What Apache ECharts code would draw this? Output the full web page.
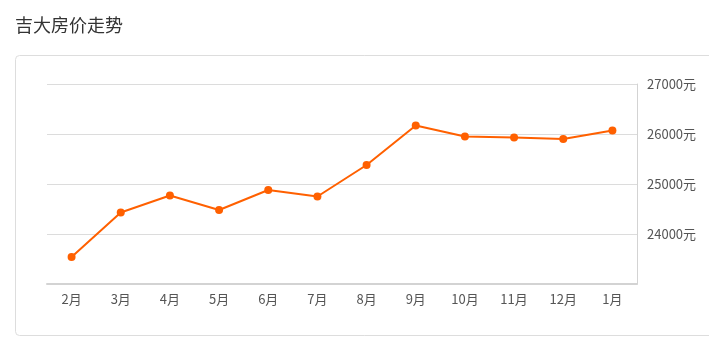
<!DOCTYPE html>
<html>
<head>
<meta charset="utf-8">
<script src="https://cdn.jsdelivr.net/npm/echarts@6/dist/echarts.min.js"></script>
<style>
html,body{margin:0;padding:0;background:#fff;}
#c{width:709px;height:341px;}
</style>
</head>
<body>
<div id="c"></div>
<script>
var categories = ['2月','3月','4月','5月','6月','7月','8月','9月','10月','11月','12月','1月'];
var prices = [23540, 24430, 24770, 24480, 24880, 24750, 25380, 26170, 25950, 25930, 25900, 26070];
var yMin = 23000, yMax = 27000, yStep = 1000;
var titleText = '吉大房价走势';
var unit = '元';

var chart = echarts.init(document.getElementById('c'), null, {renderer:'canvas'});
chart.setOption({
  animation: false,
  title: {
    text: titleText, left: 10, top: 11,
    textStyle: {fontSize: 18, fontWeight: 'normal', color: '#333', fontFamily: 'Noto Sans CJK SC'}
  },
  graphic: [{
    type: 'rect', left: 15, top: 55, z: -1,
    shape: {width: 720, height: 280, r: 4},
    style: {fill: '#fff', stroke: '#ddd', lineWidth: 1}
  }],
  grid: {left: 47, right: 72, top: 84, bottom: 57},
  xAxis: {
    type: 'category', data: categories, boundaryGap: true,
    axisLine: {lineStyle: {color: '#d3d3d3', width: 2}},
    axisTick: {alignWithLabel: true, lineStyle: {color: '#ccc'}},
    axisLabel: {color: '#555', fontSize: 13, margin: 9, fontFamily: 'Noto Sans CJK SC'}
  },
  yAxis: {
    type: 'value', position: 'right', min: yMin, max: yMax, interval: yStep,
    axisLine: {show: true, lineStyle: {color: '#d3d3d3'}},
    axisTick: {show: false},
    splitLine: {lineStyle: {color: '#dcdcdc'}},
    axisLabel: {
      color: '#555', fontSize: 13, margin: 10, showMinLabel: false,
      fontFamily: 'Noto Sans CJK SC',
      formatter: function(v){ return v + unit; }
    }
  },
  series: [{
    type: 'line', data: prices,
    symbol: 'circle', symbolSize: 8,
    lineStyle: {color: '#ff6000', width: 2},
    itemStyle: {color: '#ff6000'}
  }]
});
</script>
</body>
</html>
